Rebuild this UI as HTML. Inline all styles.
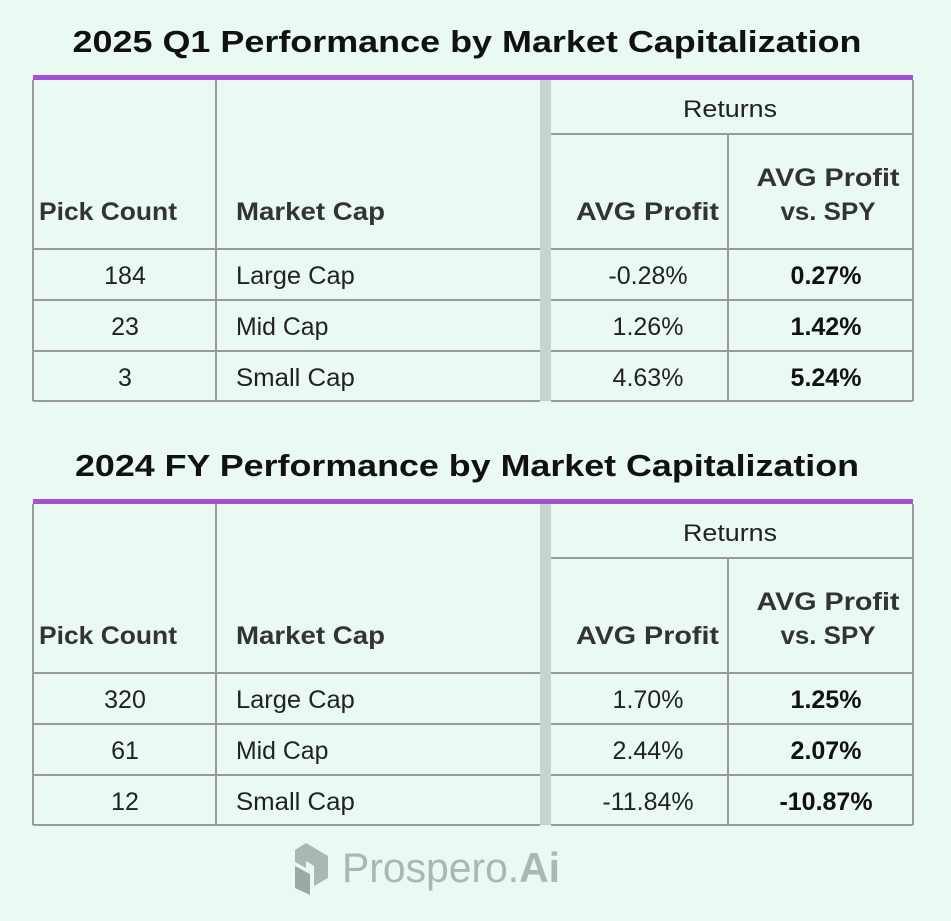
<!DOCTYPE html>
<html><head><meta charset="utf-8"><style>
html,body{margin:0;padding:0;background:#eaf9f1;}
svg{display:block;font-family:"Liberation Sans","DejaVu Sans",sans-serif;}
</style></head><body>
<svg width="951" height="921" viewBox="0 0 951 921">
<rect x="0" y="0" width="951" height="921" fill="#eaf9f1"/>
<g id="root"></g>
<g fill="#a9b8b2">
  <polygon points="295,850 306,843 328,856 328,878 314,886 314,866 306,861 306,868 295,862" fill="#a9b8b2"/>
  <polygon points="295,866 310,874 310,895 295,888" fill="#9aaaa3"/>
  <text x="342" y="882" font-size="42" fill="#a9b8b2" textLength="218" lengthAdjust="spacingAndGlyphs">Prospero.<tspan font-weight="bold">Ai</tspan></text>
</g>
</svg>
<script>
const titles = ["2025 Q1 Performance by Market Capitalization","2024 FY Performance by Market Capitalization"];
const pickCounts = [["184","23","3"],["320","61","12"]];
const caps = ["Large Cap","Mid Cap","Small Cap"];
const avgProfit = [["-0.28%","1.26%","4.63%"],["1.70%","2.44%","-11.84%"]];
const vsSpy = [["0.27%","1.42%","5.24%"],["1.25%","2.07%","-10.87%"]];
const tops = [80, 504];
const NS="http://www.w3.org/2000/svg";
const root=document.getElementById('root');
function el(tag,attrs,parent,txt){const e=document.createElementNS(NS,tag);for(const k in attrs)e.setAttribute(k,attrs[k]);if(txt!==undefined)e.textContent=txt;(parent||root).appendChild(e);return e;}
function line(x1,y1,x2,y2,g){const l=el('line',{x1,y1,x2,y2,stroke:'#9a9a9a','stroke-width':2},g);

}
function txt(x,y,s,opts,g,name){const t=el('text',Object.assign({x,y,'font-size':24,fill:'#222'},opts),g,s);

return t;}
const LA='spacingAndGlyphs';
tops.forEach((T,i)=>{
  const g=el('g',{});
  
  
  txt(467,T-28,titles[i],{'font-size':31,'font-weight':'bold','text-anchor':'middle',fill:'#111',textLength:(i?784:789),lengthAdjust:LA},g,'table-title');
  const bar=el('rect',{x:33,y:T-5,width:880,height:5,fill:'#a64fd8'},g);
  
  
  const sep=el('rect',{x:540,y:T,width:11,height:321,fill:'#c6d6cf'},g);
  
  
  const hb=T+169, rows=[hb,hb+51,hb+102,hb+152];
  line(33,T,33,rows[3],g);line(216,T,216,rows[3],g);line(913,T,913,rows[3],g);
  line(551,T+54,913,T+54,g);line(728,T+54,728,rows[3],g);
  rows.forEach(y=>{line(33,y,540,y,g);line(551,y,913,y,g);});
  const hs={'font-weight':'bold',fill:'#333','font-size':25,lengthAdjust:LA};
  txt(39,T+140,'Pick Count',Object.assign({textLength:138},hs),g,'header-pick-count');
  txt(236,T+140,'Market Cap',Object.assign({textLength:149},hs),g,'header-market-cap');
  txt(730,T+37,'Returns',{'text-anchor':'middle','font-size':24,textLength:94,lengthAdjust:LA},g,'header-returns');
  txt(719,T+140,'AVG Profit',Object.assign({'text-anchor':'end',textLength:143},hs),g,'header-avg-profit');
  txt(828,T+106,'AVG Profit',Object.assign({'text-anchor':'middle',textLength:143},hs),g,'header-vs-spy');
  txt(828,T+140,'vs. SPY',Object.assign({'text-anchor':'middle',textLength:95},hs),g,'header-vs-spy-2');
  caps.forEach((c,r)=>{
    const y=rows[r]+35;
    txt(125,y,pickCounts[i][r],{'text-anchor':'middle','font-size':25},g,'pick-count-cell');
    txt(236,y,c,{'font-size':25,textLength:(c.length*13.2),lengthAdjust:LA},g,'market-cap-cell');
    txt(648,y,avgProfit[i][r],{'text-anchor':'middle','font-size':25},g,'avg-profit-cell');
    txt(826,y,vsSpy[i][r],{'text-anchor':'middle','font-weight':'bold',fill:'#111','font-size':25},g,'vs-spy-cell');
  });
});
</script>
</body></html>
